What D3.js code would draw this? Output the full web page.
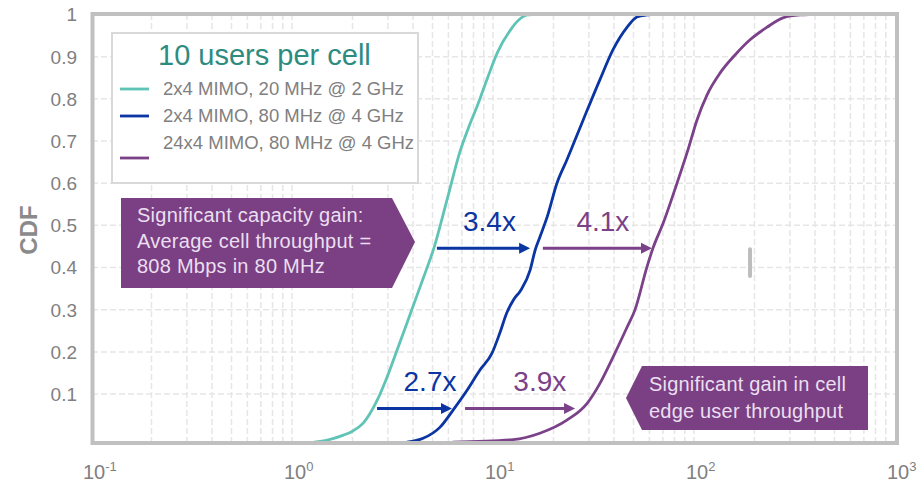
<!DOCTYPE html>
<html><head><meta charset="utf-8">
<script src="https://cdn.jsdelivr.net/npm/d3@7"></script>
<style>body{margin:0;background:#fff}svg{display:block;font-family:Arial,"Liberation Sans",sans-serif}</style>
</head><body><svg id="c" width="921" height="492"></svg>
<script>
// ---------- data ----------
const legendTitle = "10 users per cell";
const seriesNames = ["2x4 MIMO, 20 MHz @ 2 GHz", "2x4 MIMO, 80 MHz @ 4 GHz", "24x4 MIMO, 80 MHz @ 4 GHz"];
const seriesColors = ["#5fc4b6", "#0a35a3", "#7b4189"];
const tealCdf = [[1.29,-0.014],[1.5,-0.009],[1.79,0.002],[2.0,0.012],[2.26,0.031],[2.65,0.085],[2.97,0.14],[3.33,0.204],[3.73,0.268],[4.05,0.315],[4.5,0.375],[5.08,0.446],[5.9,0.56],[6.85,0.675],[7.6,0.735],[8.32,0.781],[9.4,0.85],[10.5,0.909],[12.2,0.963],[13.5,0.988],[14.8,0.999],[16,1]];
const blueCdf = [[3.73,-0.014],[4.49,-0.005],[5.44,0.021],[6.33,0.062],[7.43,0.109],[8.61,0.157],[9.89,0.197],[10.8,0.244],[11.7,0.292],[12.7,0.325],[13.7,0.345],[15.3,0.394],[16.2,0.441],[17.1,0.472],[18.6,0.52],[20.8,0.6],[23.3,0.655],[28.1,0.75],[34.0,0.845],[39.5,0.916],[46.5,0.97],[52.0,0.994],[58.3,0.999],[62,1]];
const purpleCdf = [[6.3,-0.014],[12.6,-0.008],[17.1,0.007],[23.3,0.038],[29.4,0.078],[34.1,0.126],[39.5,0.187],[46.5,0.259],[50.8,0.299],[58.3,0.401],[62.5,0.446],[70.2,0.505],[82.3,0.6],[93.3,0.679],[103.5,0.75],[116,0.809],[134.7,0.861],[160,0.904],[190,0.94],[231,0.97],[277,0.992],[337,0.999],[400,1]];
const yTicks = [0.1,0.2,0.3,0.4,0.5,0.6,0.7,0.8,0.9,1];
const xDecades = [-1,0,1,2,3];
const gainArrows = [
  {label:"3.4x", from:5.26, to:15.3, cdf:0.446, labelAt:9.6, color:"#0a35a3"},
  {label:"4.1x", from:17.7, to:61.8, cdf:0.446, labelAt:35.2, color:"#7b4189"},
  {label:"2.7x", from:2.65, to:6.25, cdf:0.066, labelAt:4.86, color:"#0a35a3"},
  {label:"3.9x", from:7.26, to:25.6, cdf:0.066, labelAt:17.1, color:"#7b4189"}
];
const noteCapacity = ["Significant capacity gain:", "Average cell throughput =", "808 Mbps in 80 MHz"];
const noteEdge = ["Significant gain in cell", "edge user throughput"];
const markerTick = {x:190, y0:0.375, y1:0.448};

// ---------- chart ----------
const svg = d3.select("#c");
const x = d3.scaleLog().domain([0.1, 1000]).range([91, 895]);
const y = d3.scaleLinear().domain([-0.0125, 1]).range([441.5, 14.5]);

svg.append("defs").append("clipPath").attr("id", "plotClip").append("rect")
  .attr("x", 94.5).attr("y", 16).attr("width", 800.5).attr("height", 425);

// grid
const grid = svg.append("g");
const vLines = [];
for (let k = -1; k < 3; k++) for (let m = 1; m <= 9; m++) vLines.push(m * Math.pow(10, k));
grid.selectAll("line.v").data(vLines.filter(v => v > 0.1)).enter().append("line")
  .attr("x1", d => x(d)).attr("x2", d => x(d)).attr("y1", 14).attr("y2", 443)
  .attr("stroke", "#e6e6e6").attr("stroke-width", 1.5).attr("stroke-dasharray", "6,3");
grid.selectAll("line.h").data(yTicks.slice(0, 9)).enter().append("line")
  .attr("x1", 92).attr("x2", 897).attr("y1", d => y(d)).attr("y2", d => y(d))
  .attr("stroke", "#e6e6e6").attr("stroke-width", 1.5).attr("stroke-dasharray", "6,3");

// y axis labels
svg.append("g").selectAll("text").data(yTicks).enter().append("text")
  .attr("x", 77).attr("y", d => y(d)).attr("dy", "0.36em").attr("text-anchor", "end")
  .attr("font-size", 19).attr("fill", "#808080").text(d => d3.format("~g")(d));
svg.append("text").attr("transform", "translate(37,230) rotate(-90)").attr("text-anchor", "middle")
  .attr("font-size", 24).attr("font-weight", "bold").attr("fill", "#8a8a8a").text("CDF");

// x axis labels
const xl = svg.append("g").selectAll("g").data(xDecades).enter().append("text")
  .attr("x", d => x(Math.pow(10, d)) - 8).attr("y", 479).attr("fill", "#808080").attr("font-size", 20);
xl.append("tspan").text("10");
xl.append("tspan").attr("dy", -8).attr("font-size", 13).text(d => d);

// curves
const line = d3.line().x(d => x(d[0])).y(d => y(d[1])).curve(d3.curveMonotoneX);
const cg = svg.append("g").attr("clip-path", "url(#plotClip)");
[tealCdf, blueCdf, purpleCdf].forEach((s, i) => {
  cg.append("path").datum(s).attr("d", line).attr("fill", "none")
    .attr("stroke", seriesColors[i]).attr("stroke-width", 2.8);
});

// frame
svg.append("rect").attr("x", 92.5).attr("y", 14).attr("width", 804.5).attr("height", 429)
  .attr("fill", "none").attr("stroke", "#c0c0c0").attr("stroke-width", 4);

// marker
svg.append("rect").attr("x", x(markerTick.x) - 2).attr("y", y(markerTick.y1)).attr("width", 4)
  .attr("height", y(markerTick.y0) - y(markerTick.y1)).attr("rx", 2).attr("fill", "#bdbdbd");

// legend
const lg = svg.append("g");
lg.append("rect").attr("x", 112).attr("y", 33).attr("width", 306).attr("height", 150)
  .attr("fill", "#fff").attr("stroke", "#d9d9d9").attr("stroke-width", 2);
lg.append("text").attr("x", 158).attr("y", 65).attr("font-size", 29).attr("fill", "#2e8b80").text(legendTitle);
const legY = [89, 116, 158], legTY = [95, 122, 149];
seriesNames.forEach((n, i) => {
  lg.append("line").attr("x1", 120).attr("x2", 149).attr("y1", legY[i]).attr("y2", legY[i])
    .attr("stroke", seriesColors[i]).attr("stroke-width", 2.8);
  lg.append("text").attr("x", 163).attr("y", legTY[i]).attr("font-size", 18.5).attr("fill", "#808080").text(n);
});

// annotation boxes
const boxFill = "#7b3f84", boxText = "#eadff0";
svg.append("path").attr("d", "M121,198 L392,198 L415,242 L392,288 L121,288 Z").attr("fill", boxFill);
svg.append("g").selectAll("text").data(noteCapacity).enter().append("text")
  .attr("x", 137).attr("y", (d, i) => 222 + i * 25.5).attr("font-size", 20).attr("letter-spacing", 0.25)
  .attr("fill", boxText).text(d => d);
svg.append("path").attr("d", "M642,366 L868,366 L868,430 L642,430 L626,398 Z").attr("fill", boxFill);
svg.append("g").selectAll("text").data(noteEdge).enter().append("text")
  .attr("x", 649).attr("y", (d, i) => 391 + i * 27).attr("font-size", 20).attr("letter-spacing", 0.2)
  .attr("fill", boxText).text(d => d);

// gain arrows
const ag = svg.append("g");
gainArrows.forEach(a => {
  const yy = y(a.cdf), x0 = x(a.from), x1 = x(a.to);
  ag.append("line").attr("x1", x0).attr("x2", x1 - 9).attr("y1", yy).attr("y2", yy)
    .attr("stroke", a.color).attr("stroke-width", 3);
  ag.append("path").attr("d", `M${x1},${yy} L${x1 - 11},${yy - 5.5} L${x1 - 11},${yy + 5.5} Z`).attr("fill", a.color);
  ag.append("text").attr("x", x(a.labelAt)).attr("y", yy - 17).attr("text-anchor", "middle")
    .attr("font-size", 28).attr("fill", a.color).text(a.label);
});
</script></body></html>
